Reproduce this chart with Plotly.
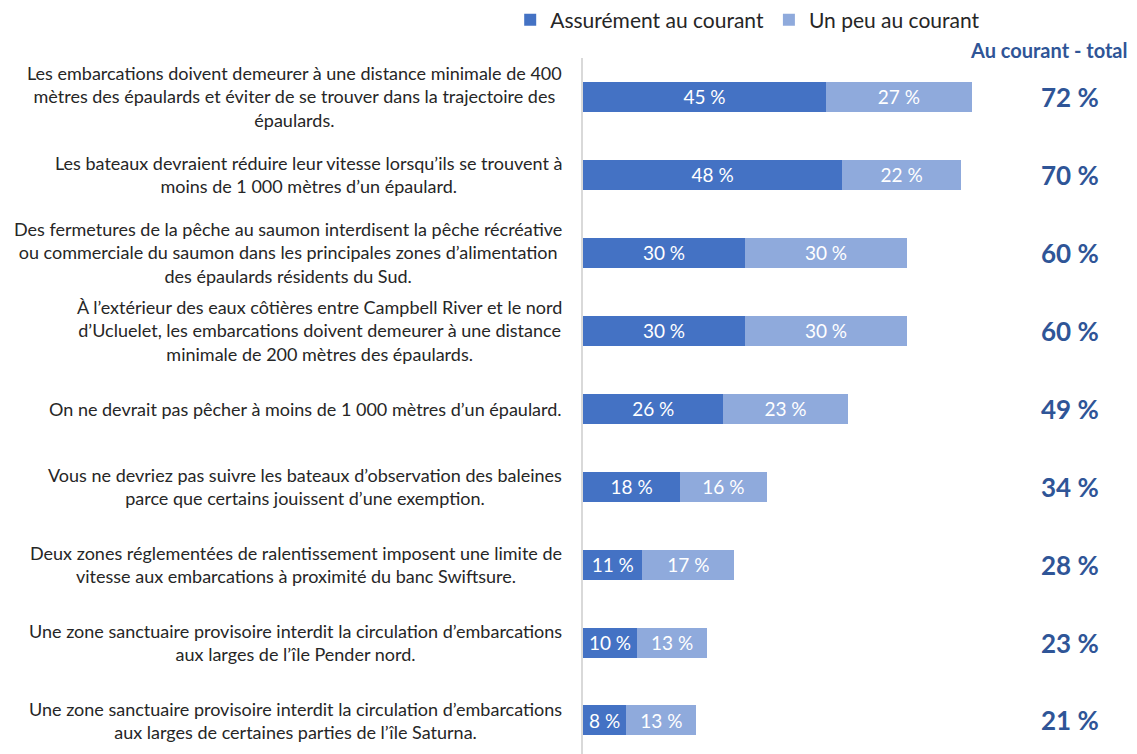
import plotly.graph_objects as go

# statements (top to bottom)
LABELS = [
    "Les embarcations doivent demeurer à une distance minimale de 400<br>mètres des épaulards et éviter de se trouver dans la trajectoire des<br>épaulards.",
    "Les bateaux devraient réduire leur vitesse lorsqu’ils se trouvent à<br>moins de 1 000 mètres d’un épaulard.",
    "Des fermetures de la pêche au saumon interdisent la pêche récréative<br>ou commerciale du saumon dans les principales zones d’alimentation<br>des épaulards résidents du Sud.",
    "À l’extérieur des eaux côtières entre Campbell River et le nord<br>d’Ucluelet, les embarcations doivent demeurer à une distance<br>minimale de 200 mètres des épaulards.",
    "On ne devrait pas pêcher à moins de 1 000 mètres d’un épaulard.",
    "Vous ne devriez pas suivre les bateaux d’observation des baleines<br>parce que certains jouissent d’une exemption.",
    "Deux zones réglementées de ralentissement imposent une limite de<br>vitesse aux embarcations à proximité du banc Swiftsure.",
    "Une zone sanctuaire provisoire interdit la circulation d’embarcations<br>aux larges de l’île Pender nord.",
    "Une zone sanctuaire provisoire interdit la circulation d’embarcations<br>aux larges de certaines parties de l’île Saturna.",
]
ASSURE = [45, 48, 30, 30, 26, 18, 11, 10, 8]
UN_PEU = [27, 22, 30, 30, 23, 16, 17, 13, 13]
TOTAL = [72, 70, 60, 60, 49, 34, 28, 23, 21]

DARK = "#4472C4"
LIGHT = "#8FAADC"
TOTAL_BLUE = "#2F5597"
FONT = "Lato"

fig = go.Figure()
for name, vals, col in [("Assurément au courant", ASSURE, DARK),
                        ("Un peu au courant", UN_PEU, LIGHT)]:
    fig.add_trace(go.Bar(
        y=LABELS, x=vals, name=name, orientation="h",
        marker=dict(color=col, line=dict(width=0)),
        width=0.385, text=[f"{v} %" for v in vals],
        textposition="inside", insidetextanchor="middle", constraintext="none",
        textfont=dict(color="white", size=19, family=FONT),
        hoverinfo="skip"))

# statement labels, centred text block ending just left of the axis
for lab in LABELS:
    fig.add_annotation(x=0, y=lab, xref="x", yref="y", text=lab, showarrow=False,
                       xanchor="right", xshift=-19, align="center",
                       font=dict(size=18, color="#262626", family=FONT))

# totals column
for lab, tot in zip(LABELS, TOTAL):
    fig.add_annotation(x=90.2, y=lab, xref="x", yref="y", text=f"<b>{tot} %</b>",
                       showarrow=False, font=dict(size=26, color=TOTAL_BLUE, family=FONT))
fig.add_annotation(x=86.2, y=1, xref="x", yref="paper", yanchor="bottom", yshift=-6,
                   text="<b>Au courant - total</b>", showarrow=False,
                   font=dict(size=20, color=TOTAL_BLUE, family=FONT))

# page body has an 8px margin, so the figure is laid out 8px up/left of target
fig.update_layout(
    barmode="stack", width=1137, height=754,
    margin=dict(l=575, r=22, t=50, b=8),
    plot_bgcolor="white", paper_bgcolor="white",
    font=dict(family=FONT, color="#262626"),
    legend=dict(orientation="h", x=0.305, xanchor="center",
                yref="container", y=0.984, yanchor="middle",
                font=dict(size=21, family=FONT), traceorder="normal"),
)
fig.update_xaxes(range=[0, 100], visible=False)
fig.update_yaxes(range=[8.43, -0.5], showticklabels=False, showgrid=False,
                 showline=True, linecolor="#D9D9D9", linewidth=2, zeroline=False)

fig.write_html("out.html")
